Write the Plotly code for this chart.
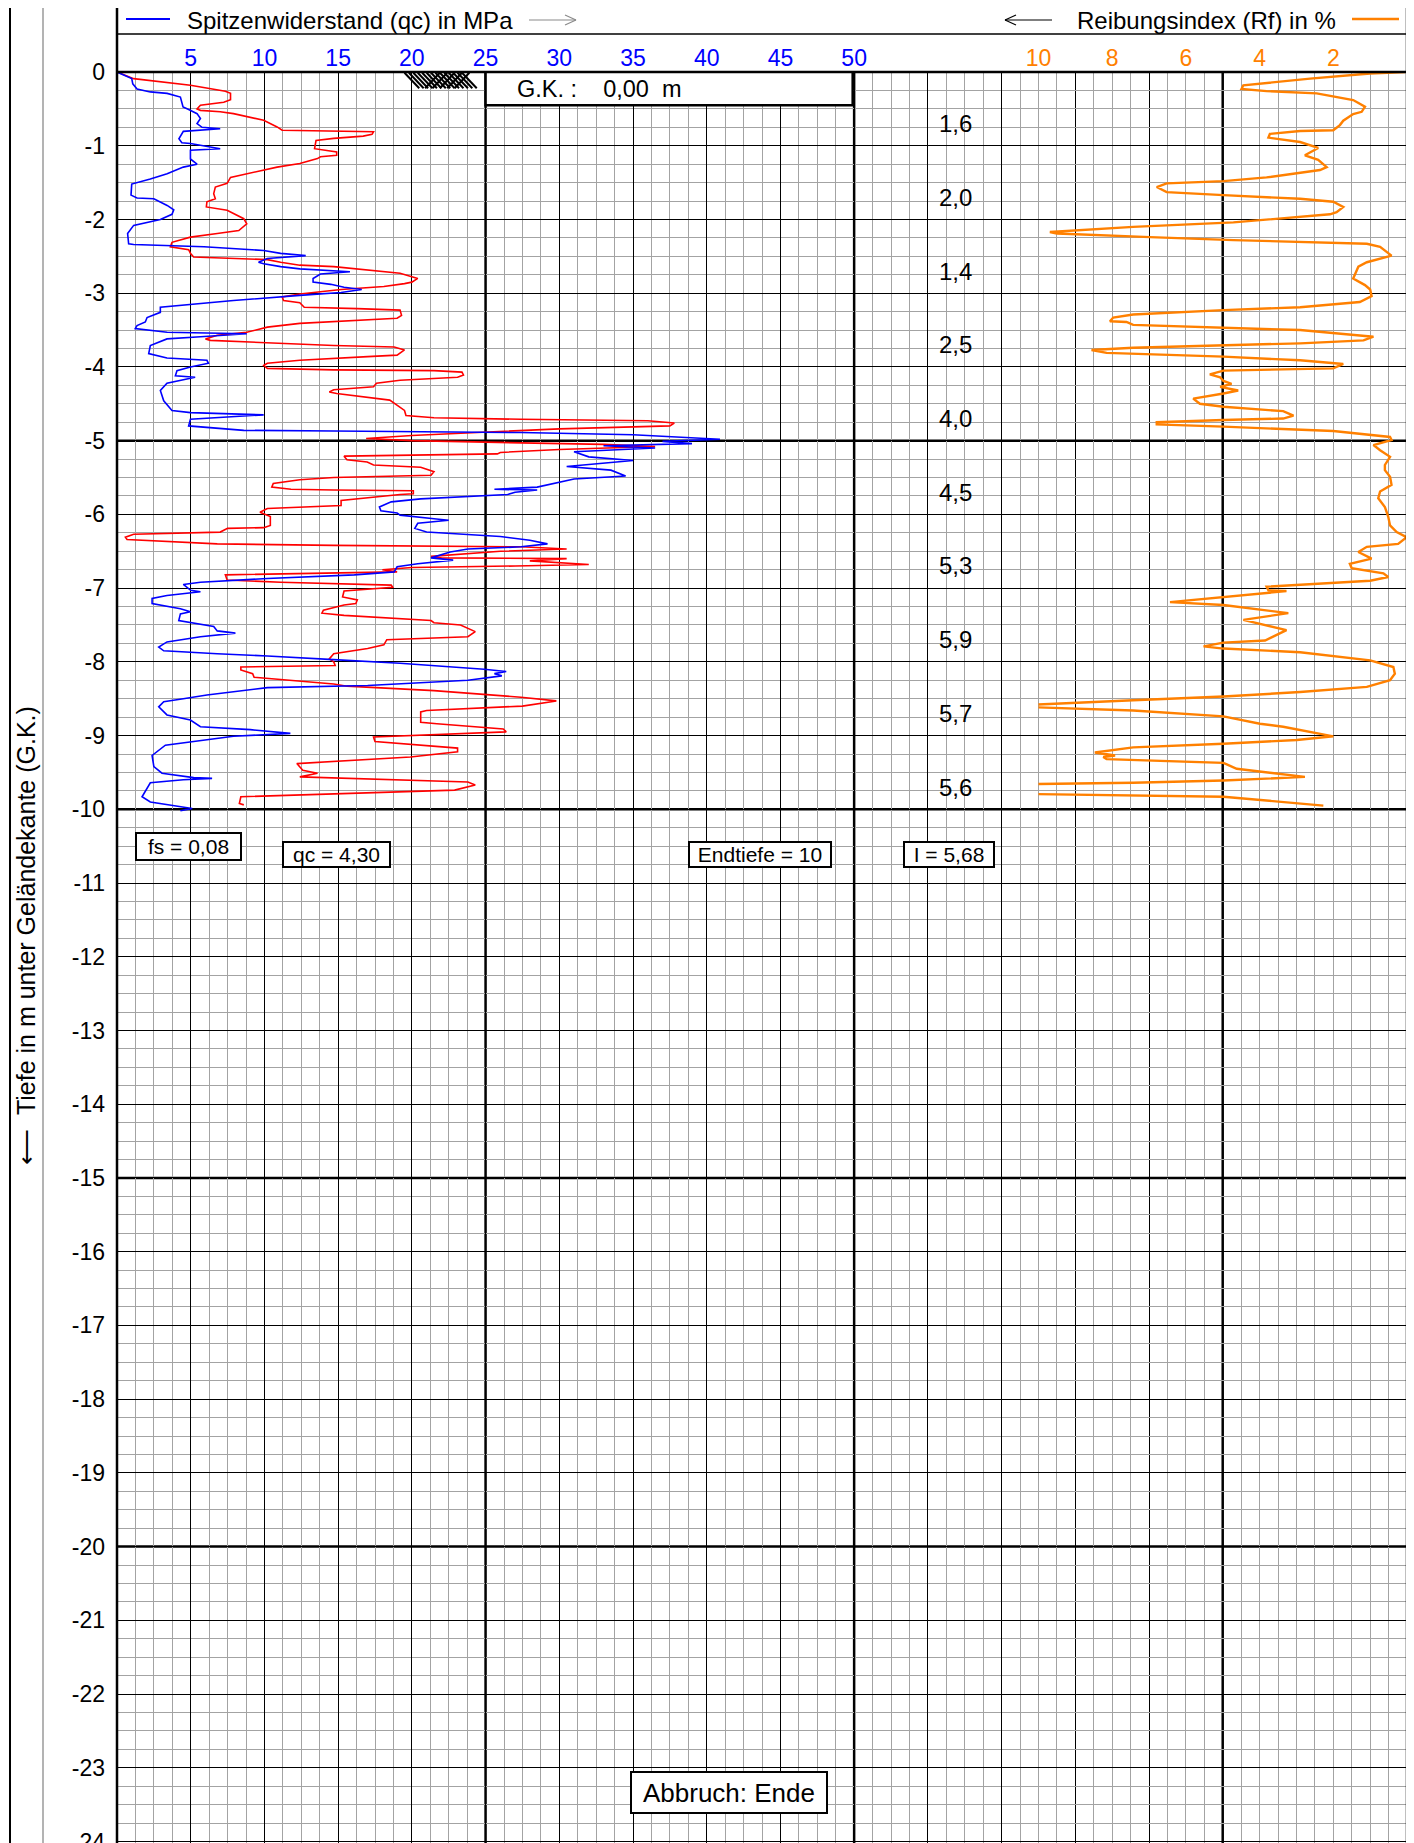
import plotly.graph_objects as go

# ---------------- data ----------------
# Spitzenwiderstand qc (MPa) over depth (m below G.K.)
qc_depth = [0, 0.09, 0.16, 0.23, 0.27, 0.29, 0.34, 0.475, 0.51, 0.565, 0.63, 0.70, 0.75, 0.77, 0.805, 0.905, 0.96, 0.97, 1.04, 1.06,
            1.18, 1.25, 1.29, 1.38, 1.45, 1.52, 1.67, 1.71, 1.72, 1.81, 1.87, 1.93, 2.0, 2.04, 2.08, 2.19, 2.33, 2.34, 2.35, 2.37,
            2.42, 2.46, 2.49, 2.53, 2.58, 2.60, 2.64, 2.67, 2.71, 2.74, 2.80, 2.85, 2.88, 2.92, 2.95, 2.99, 3.03, 3.10, 3.19, 3.26,
            3.33, 3.39, 3.44, 3.48, 3.53, 3.55, 3.59, 3.62, 3.71, 3.82, 3.88, 3.91, 3.95, 4.0, 4.05, 4.12, 4.14, 4.18, 4.22, 4.32,
            4.46, 4.59, 4.62, 4.65, 4.71, 4.80, 4.86, 4.87, 4.89, 4.92, 4.98, 5.01, 5.04, 5.07, 5.10, 5.15, 5.22, 5.27, 5.31, 5.35,
            5.40, 5.48, 5.52, 5.58, 5.63, 5.66, 5.67, 5.70, 5.73, 5.79, 5.83, 5.90, 5.95, 5.98, 6.01, 6.06, 6.08, 6.12, 6.19, 6.24,
            6.27, 6.30, 6.35, 6.40, 6.44, 6.47, 6.51, 6.59, 6.62, 6.67, 6.71, 6.78, 6.82, 6.87, 6.92, 6.95, 7.03, 7.05, 7.10, 7.14,
            7.21, 7.25, 7.28, 7.32, 7.35, 7.44, 7.47, 7.52, 7.58, 7.61, 7.66, 7.73, 7.80, 7.85, 7.89, 7.92, 7.97, 8.02, 8.10, 8.13,
            8.16, 8.19, 8.25, 8.32, 8.35, 8.45, 8.50, 8.54, 8.61, 8.72, 8.79, 8.88, 8.92, 8.97, 9.01, 9.08, 9.13, 9.27, 9.42, 9.51,
            9.57, 9.58, 9.60, 9.64, 9.83, 9.90, 9.94, 9.99, 10.02]
qc_mpa = [0, 1.0, 1.07, 1.36, 2.26, 3.4, 4.3, 4.48, 4.86, 5.43, 5.66, 5.43, 5.77, 7.0, 4.5, 4.2, 4.4, 4.98, 7.0, 4.98,
          4.98, 5.43, 4.5, 3.4, 2.26, 1.0, 0.95, 1.36, 2.5, 3.4, 3.85, 3.73, 2.94, 2.04, 1.13, 0.72, 0.79, 1.13, 3.39, 5.9,
          9.95, 11.1, 12.8, 10.2, 9.6, 9.95, 11.1, 12.4, 15.8, 13.8, 13.3, 13.3, 14.5, 15.4, 16.6, 15.2, 12.4, 7.9, 2.94, 2.94,
          2.04, 1.92, 1.36, 1.24, 3.4, 8.8, 5.66, 3.39, 2.26, 2.15, 3.39, 6.1, 6.2, 4.98, 4.07, 3.96, 5.3, 4.3, 3.39, 2.94,
          3.17, 3.73, 4.98, 9.95, 4.98, 4.86, 8.6, 14.7, 27.4, 35.0, 40.9, 37.0, 39.0, 33.0, 36.5, 31.0, 32.0, 35.0, 33.0, 30.5,
          33.5, 34.5, 31.0, 29.5, 28.5, 25.6, 28.5, 27.0, 26.5, 20.6, 18.6, 17.8, 17.9, 19.0, 19.2, 21.5, 22.5, 20.4, 20.2, 21.0,
          23.8, 26.0, 28.0, 29.2, 27.4, 23.8, 22.6, 21.3, 22.8, 20.4, 19.0, 18.8, 16.1, 10.2, 5.66, 4.5, 5.0, 5.66, 3.39, 2.38,
          2.38, 3.39, 4.3, 4.98, 4.3, 4.19, 4.98, 6.56, 6.8, 8.03, 5.66, 3.39, 2.83, 3.17, 6.8, 10.2, 14.7, 19.2, 24.9, 26.4,
          25.6, 26.1, 23.8, 17.0, 10.2, 6.1, 4.5, 3.17, 2.83, 3.39, 4.98, 5.66, 9.05, 11.76, 7.9, 4.98, 3.28, 2.38, 2.5, 3.05,
          5.2, 6.45, 4.5, 2.26, 1.7, 2.26, 3.5, 5.1, 4.3]

# red curve (sleeve friction, drawn on the qc scale)
fs_depth = [0, 0.077, 0.09, 0.18, 0.26, 0.29, 0.375, 0.41, 0.45, 0.50, 0.52, 0.54, 0.565, 0.655, 0.745, 0.79, 0.80, 0.81, 0.845, 0.87,
            0.90, 0.93, 1.04, 1.05, 1.085, 1.13, 1.15, 1.175, 1.24, 1.29, 1.31, 1.38, 1.43, 1.51, 1.56, 1.65, 1.72, 1.76, 1.83, 1.875,
            1.94, 1.99, 2.06, 2.15, 2.19, 2.24, 2.31, 2.37, 2.41, 2.46, 2.51, 2.545, 2.58, 2.62, 2.64, 2.69, 2.73, 2.80, 2.85, 2.87,
            2.91, 2.95, 3.01, 3.05, 3.10, 3.13, 3.19, 3.21, 3.23, 3.30, 3.34, 3.41, 3.46, 3.53, 3.57, 3.62, 3.64, 3.71, 3.73, 3.77,
            3.84, 3.86, 3.91, 3.95, 3.98, 4.02, 4.04, 4.05, 4.07, 4.11, 4.14, 4.18, 4.22, 4.27, 4.31, 4.34, 4.36, 4.45, 4.52, 4.59,
            4.66, 4.69, 4.71, 4.73, 4.76, 4.80, 4.84, 4.88, 4.93, 4.97, 5.00, 5.03, 5.05, 5.08, 5.12, 5.16, 5.18, 5.21, 5.26, 5.29,
            5.33, 5.36, 5.42, 5.47, 5.50, 5.53, 5.58, 5.63, 5.66, 5.67, 5.68, 5.72, 5.73, 5.81, 5.88, 5.92, 5.97, 6.03, 6.15, 6.18,
            6.19, 6.24, 6.27, 6.31, 6.34, 6.40, 6.42, 6.44, 6.47, 6.50, 6.57, 6.59, 6.60, 6.63, 6.68, 6.70, 6.72, 6.75, 6.78, 6.82,
            6.89, 6.92, 6.96, 6.99, 7.04, 7.12, 7.16, 7.21, 7.23, 7.30, 7.34, 7.37, 7.40, 7.44, 7.47, 7.50, 7.59, 7.66, 7.70, 7.77,
            7.82, 7.89, 7.96, 8.00, 8.05, 8.07, 8.11, 8.16, 8.21, 8.30, 8.33, 8.39, 8.48, 8.53, 8.60, 8.66, 8.68, 8.82, 8.84, 8.91,
            8.95, 9.02, 9.08, 9.12, 9.17, 9.22, 9.29, 9.38, 9.47, 9.51, 9.56, 9.63, 9.67, 9.74, 9.83, 9.92, 9.94]
fs_val = [0, 0.9, 1.13, 4.98, 7.35, 7.7, 7.7, 7.24, 5.66, 5.43, 5.66, 7.0, 7.9, 9.95, 10.86, 11.2, 14.7, 17.4, 17.3, 16.7,
          14.7, 13.5, 13.4, 13.8, 14.9, 14.9, 13.8, 13.6, 12.4, 10.86, 10.4, 8.8, 7.7, 7.47, 6.67, 6.56, 6.67, 6.1, 6.06, 7.47,
          8.15, 8.6, 8.8, 8.26, 6.8, 4.98, 3.73, 3.62, 4.86, 4.98, 5.2, 10.2, 11.1, 12.4, 14.7, 17.0, 19.2, 20.4, 20.0, 19.5,
          18.1, 15.2, 12.4, 11.2, 11.3, 12.4, 12.7, 16.3, 19.2, 19.3, 19.0, 12.4, 10.2, 8.8, 6.8, 6.0, 6.33, 14.7, 18.8, 19.5,
          19.0, 17.0, 12.4, 10.2, 9.95, 10.2, 14.7, 21.5, 23.4, 23.5, 23.1, 19.2, 17.6, 17.4, 14.7, 14.4, 14.9, 18.5, 19.0, 19.5,
          19.6, 21.5, 27.4, 36.0, 37.8, 37.5, 30.0, 25.0, 20.0, 16.9, 20.0, 27.4, 33.0, 36.5, 30.0, 26.0, 25.8, 15.4, 15.6, 16.97,
          17.4, 20.6, 21.5, 21.3, 14.7, 12.4, 10.6, 10.5, 11.8, 14.7, 20.1, 20.1, 19.2, 15.2, 15.2, 10.2, 9.7, 10.4, 10.4, 9.95,
          7.5, 7.0, 1.13, 0.57, 0.68, 6.8, 14.7, 27.4, 30.5, 26.0, 21.3, 22.0, 30.5, 28.0, 32.0, 27.0, 20.0, 18.0, 19.0, 7.35,
          7.47, 11.1, 18.6, 18.7, 15.4, 15.3, 16.3, 16.2, 15.4, 14.0, 13.9, 15.4, 18.3, 21.3, 21.5, 23.3, 24.3, 23.8, 18.3, 18.1,
          17.0, 14.7, 14.4, 14.7, 14.8, 8.4, 8.4, 9.2, 9.3, 14.7, 15.6, 21.5, 27.4, 29.8, 27.5, 21.0, 20.6, 20.6, 21.7, 26.2,
          26.4, 17.4, 17.5, 19.9, 23.1, 23.1, 19.9, 12.2, 12.6, 13.6, 12.4, 23.8, 24.3, 22.9, 8.4, 8.3, 8.6]

# Reibungsindex Rf (%) over depth
rf_depth = [0, 0.02, 0.09, 0.18, 0.23, 0.26, 0.29, 0.38, 0.47, 0.54, 0.57, 0.66, 0.72, 0.79, 0.80, 0.84, 0.89, 0.95, 1.03, 1.13,
            1.19, 1.25, 1.29, 1.33, 1.43, 1.48, 1.51, 1.56, 1.63, 1.67, 1.72, 1.76, 1.83, 1.90, 1.93, 2.04, 2.10, 2.17, 2.19, 2.24,
            2.28, 2.33, 2.37, 2.49, 2.53, 2.58, 2.64, 2.80, 2.89, 2.95, 3.04, 3.12, 3.19, 3.23, 3.29, 3.33, 3.38, 3.39, 3.43, 3.47,
            3.50, 3.59, 3.64, 3.68, 3.71, 3.74, 3.77, 3.81, 3.86, 3.91, 3.96, 4.02, 4.05, 4.10, 4.14, 4.19, 4.23, 4.27, 4.32, 4.36,
            4.43, 4.50, 4.54, 4.60, 4.66, 4.70, 4.72, 4.75, 4.78, 4.81, 4.87, 4.95, 4.99, 5.06, 5.13, 5.22, 5.33, 5.40, 5.49, 5.60,
            5.69, 5.78, 5.90, 6.03, 6.15, 6.24, 6.31, 6.40, 6.44, 6.51, 6.60, 6.67, 6.73, 6.80, 6.85, 6.90, 6.98, 7.03, 7.04, 7.12,
            7.19, 7.23, 7.34, 7.43, 7.46, 7.57, 7.71, 7.74, 7.79, 7.82, 7.87, 7.98, 8.07, 8.16, 8.25, 8.34, 8.41, 8.47, 8.52, 8.59,
            8.61, 8.66, 8.74, 8.84, 8.88, 9.01, 9.06, 9.11, 9.16, 9.23, 9.27, 9.29, 9.32, 9.37, 9.45, 9.56, 9.61, 9.64, 9.66, 9.79,
            9.83, 9.88, 9.95]
rf_pct = [0.05, 1.0, 2.63, 4.44, 4.49, 3.81, 2.45, 1.46, 1.14, 1.23, 1.46, 1.73, 1.82, 2.0, 2.9, 3.72, 3.76, 2.9, 2.41, 2.77,
          2.41, 2.27, 2.18, 2.36, 3.81, 4.98, 6.52, 6.79, 6.52, 4.98, 2.9, 2.0, 1.73, 1.91, 2.09, 4.71, 7.43, 9.69, 9.5, 6.97,
          4.71, 1.09, 0.73, 0.42, 0.73, 1.09, 1.32, 1.46, 1.14, 1.0, 0.96, 1.28, 2.9, 4.98, 7.43, 7.97, 8.06, 7.61, 7.43, 4.98,
          2.9, 0.91, 1.18, 2.9, 4.98, 7.43, 8.56, 8.15, 4.98, 2.9, 1.73, 2.0, 4.98, 5.35, 5.07, 4.98, 4.76, 5.07, 4.58, 4.98,
          5.80, 5.62, 4.98, 3.36, 3.08, 3.36, 4.98, 6.79, 6.79, 4.98, 2.0, 0.46, 0.42, 0.91, 0.73, 0.46, 0.6, 0.6, 0.46, 0.42,
          0.73, 0.78, 0.6, 0.51, 0.46, 0.28, 0.01, 0.24, 1.09, 1.32, 0.96, 1.55, 1.5, 0.64, 0.51, 1.0, 3.81, 3.76, 3.27, 4.98,
          6.43, 4.98, 3.22, 4.44, 4.17, 3.27, 3.85, 4.98, 5.52, 4.98, 2.9, 1.0, 0.37, 0.33, 0.46, 1.09, 2.9, 4.98, 7.43, 10.5,
          10.5, 7.43, 4.98, 3.99, 3.36, 2.0, 2.99, 4.98, 7.43, 8.47, 7.92, 8.24, 8.15, 4.98, 4.62, 2.77, 4.98, 7.43, 10.5, 10.5,
          4.98, 3.81, 2.27]

# axis ticks (major grid every 5 MPa up to 75)
qc_tick_vals = [0, 5, 10, 15, 20, 25, 30, 35, 40, 45, 50, 55, 60, 65, 70, 75]
qc_tick_text = ["", "5", "10", "15", "20", "25", "30", "35", "40", "45", "50", "", "", "", "", ""]
rf_tick_vals = [10, 8, 6, 4, 2]
rf_tick_text = ["10", "8", "6", "4", "2"]
depth_tick_vals = [-d for d in range(0, 25)]
depth_tick_text = ["0"] + ["-%d" % d for d in range(1, 25)]

# layer labels (per metre)
layer_depths = [0.7, 1.7, 2.7, 3.7, 4.7, 5.7, 6.7, 7.7, 8.7, 9.7]
layer_text = ["1,6", "2,0", "1,4", "2,5", "4,0", "4,5", "5,3", "5,9", "5,7", "5,6"]

# ---------------- figure ----------------
BODY = 8                      # default page margin of the html body
W, H = 1414 - BODY, 1843 - BODY
PLOT_L, PLOT_T, PLOT_R, PLOT_B = 117, 72, 1407, 1843   # page pixel positions of the plot area
ML, MT = PLOT_L - BODY, PLOT_T - BODY
MR, MB = W - (PLOT_R - BODY), H - (PLOT_B - BODY)
PW, PH = PLOT_R - PLOT_L, PLOT_B - PLOT_T
QC_MAX = 87.5
RF_START = 62.5  # qc-position where Rf = 10 %
FONT = "Liberation Sans, Arial, sans-serif"


def px_x(px):
    return (px - PLOT_L) / PW


def px_y(py):
    return 1 + (PLOT_T - py) / PH


def pline(x0, y0, x1, y1, color, width):
    return dict(type="line", xref="paper", yref="paper", x0=px_x(x0), x1=px_x(x1), y0=px_y(y0), y1=px_y(y1),
                line=dict(color=color, width=width))


fig = go.Figure()
fig.add_trace(go.Scatter(x=fs_val, y=[-d for d in fs_depth], mode="lines",
                         line=dict(color="#ff0000", width=1.6), xaxis="x", yaxis="y", showlegend=False))
fig.add_trace(go.Scatter(x=qc_mpa, y=[-d for d in qc_depth], mode="lines",
                         line=dict(color="#0000ff", width=1.6), xaxis="x", yaxis="y", showlegend=False))
fig.add_trace(go.Scatter(x=rf_pct, y=[-d for d in rf_depth], mode="lines",
                         line=dict(color="#ff8000", width=2.4), xaxis="x2", yaxis="y", showlegend=False))

shapes = []
for yv in [-5, -10, -15, -20]:
    shapes.append(dict(type="line", xref="paper", yref="y", x0=0, x1=1, y0=yv, y1=yv,
                       line=dict(color="black", width=2.5), layer="below"))
for xv in [25, 50, 75]:
    shapes.append(dict(type="line", xref="x", yref="paper", x0=xv, x1=xv, y0=0, y1=1,
                       line=dict(color="black", width=2.5), layer="below"))
shapes += [
    pline(PLOT_L, PLOT_T, PLOT_R, PLOT_T, "black", 2.5),
    pline(PLOT_L, BODY, PLOT_L, PLOT_B, "black", 2.5),
    pline(PLOT_R, BODY, PLOT_R, PLOT_B, "black", 2.5),
    pline(PLOT_L, 34, PLOT_R, 34, "black", 1.5),
    pline(10, BODY, 10, PLOT_B, "black", 2),
    pline(43, BODY, 43, PLOT_B, "#9a9a9a", 1.5),
    # legend samples
    pline(126, 19, 170, 19, "#0000ff", 2),
    pline(1352, 19, 1399, 19, "#ff8000", 2.5),
    # direction arrows
    pline(529, 20, 576, 20, "#8a8a8a", 1.2),
    pline(576, 20, 565, 15, "#8a8a8a", 1.2),
    pline(576, 20, 565, 25, "#8a8a8a", 1.2),
    pline(1005, 20, 1052, 20, "black", 1.2),
    pline(1005, 20, 1016, 15, "black", 1.2),
    pline(1005, 20, 1016, 25, "black", 1.2),
    # G.K. box
    dict(type="rect", xref="x", yref="y", x0=25, x1=49.9, y0=-0.45, y1=0, fillcolor="white",
         line=dict(color="black", width=2.5), layer="above"),
]
for k in range(14):
    x0 = 19.5 + 0.3 * k
    shapes.append(dict(type="line", xref="x", yref="y", x0=x0, x1=x0 + 1.0, y0=-0.01, y1=-0.22,
                       line=dict(color="black", width=2), layer="above"))
for k in range(5):
    x0 = 20.9 + 0.5 * k
    shapes.append(dict(type="line", xref="x", yref="y", x0=x0 + 1.0, x1=x0, y0=-0.01, y1=-0.22,
                       line=dict(color="black", width=2), layer="above"))

ann = []
ann.append(dict(xref="paper", yref="paper", x=px_x(186), y=px_y(21), xanchor="left", yanchor="middle",
                text="Spitzenwiderstand (qc) in MPa", showarrow=False, borderpad=0,
                font=dict(size=24, color="black", family=FONT)))
ann.append(dict(xref="paper", yref="paper", x=px_x(1337), y=px_y(21), xanchor="right", yanchor="middle",
                text="Reibungsindex (Rf) in %", showarrow=False, borderpad=0,
                font=dict(size=24, color="black", family=FONT)))
ann.append(dict(xref="paper", yref="paper", x=px_x(26), y=px_y(936), xanchor="center", yanchor="middle",
                text="\u27f5\u00a0\u00a0Tiefe in m unter Geländekante (G.K.)", textangle=-90, showarrow=False,
                font=dict(size=25, color="black", family=FONT)))
ann.append(dict(xref="x", yref="y", x=27.0, y=-0.23, xanchor="left", yanchor="middle",
                text="G.K. :\u00a0\u00a0\u00a0 0,00\u00a0\u00a0m", showarrow=False, font=dict(size=23.5, color="black", family=FONT)))
for d, t in zip(layer_depths, layer_text):
    ann.append(dict(xref="x", yref="y", x=56.9, y=-d, text=t, showarrow=False,
                    font=dict(size=24, color="black", family=FONT)))
boxes = [("fs = 0,08", 4.85, -10.51, 103, 25, 21), ("qc = 4,30", 14.9, -10.61, 105, 23, 21),
         ("Endtiefe = 10", 43.6, -10.61, 140, 23, 21), ("I = 5,68", 56.4, -10.61, 88, 23, 21),
         ("Abbruch: Ende", 41.5, -23.34, 194, 39, 26)]
for t, x, y, w, h, fsz in boxes:
    ann.append(dict(xref="x", yref="y", x=x, y=y, text=t, showarrow=False, width=w, height=h,
                    bgcolor="white", bordercolor="black", borderwidth=2, borderpad=0,
                    font=dict(size=fsz, color="black", family=FONT)))

fig.update_layout(
    width=W, height=H,
    margin=dict(l=ML, r=MR, t=MT, b=MB, autoexpand=False),
    paper_bgcolor="white", plot_bgcolor="rgba(0,0,0,0)",
    font=dict(family=FONT, size=22, color="black"),
    xaxis=dict(range=[0, QC_MAX], side="top", tickmode="array", tickvals=qc_tick_vals, ticktext=qc_tick_text,
               tickfont=dict(color="#0000ff", size=23), ticks="", ticklabelstandoff=0,
               showgrid=True, gridcolor="black", gridwidth=1, zeroline=False, showline=False,
               minor=dict(dtick=1.25, tick0=0, showgrid=True, gridcolor="#a3a3a3", gridwidth=1),
               automargin=False),
    xaxis2=dict(domain=[RF_START / QC_MAX, 1], range=[10, 0], anchor="y", side="top",
                tickmode="array", tickvals=rf_tick_vals, ticktext=rf_tick_text,
                tickfont=dict(color="#ff8000", size=23), ticks="", ticklabelstandoff=0,
                showgrid=False, zeroline=False, showline=False, automargin=False),
    yaxis=dict(range=[-24.02, 0], tickmode="array", tickvals=depth_tick_vals, ticktext=depth_tick_text,
               tickfont=dict(color="black", size=23), ticks="", ticklabelstandoff=11, ticklabeloverflow="allow",
               showgrid=True, gridcolor="black", gridwidth=1, zeroline=False, showline=False,
               minor=dict(dtick=0.25, tick0=0, showgrid=True, gridcolor="#a3a3a3", gridwidth=1),
               automargin=False),
    shapes=shapes, annotations=ann,
)

fig.write_html("out.html")
